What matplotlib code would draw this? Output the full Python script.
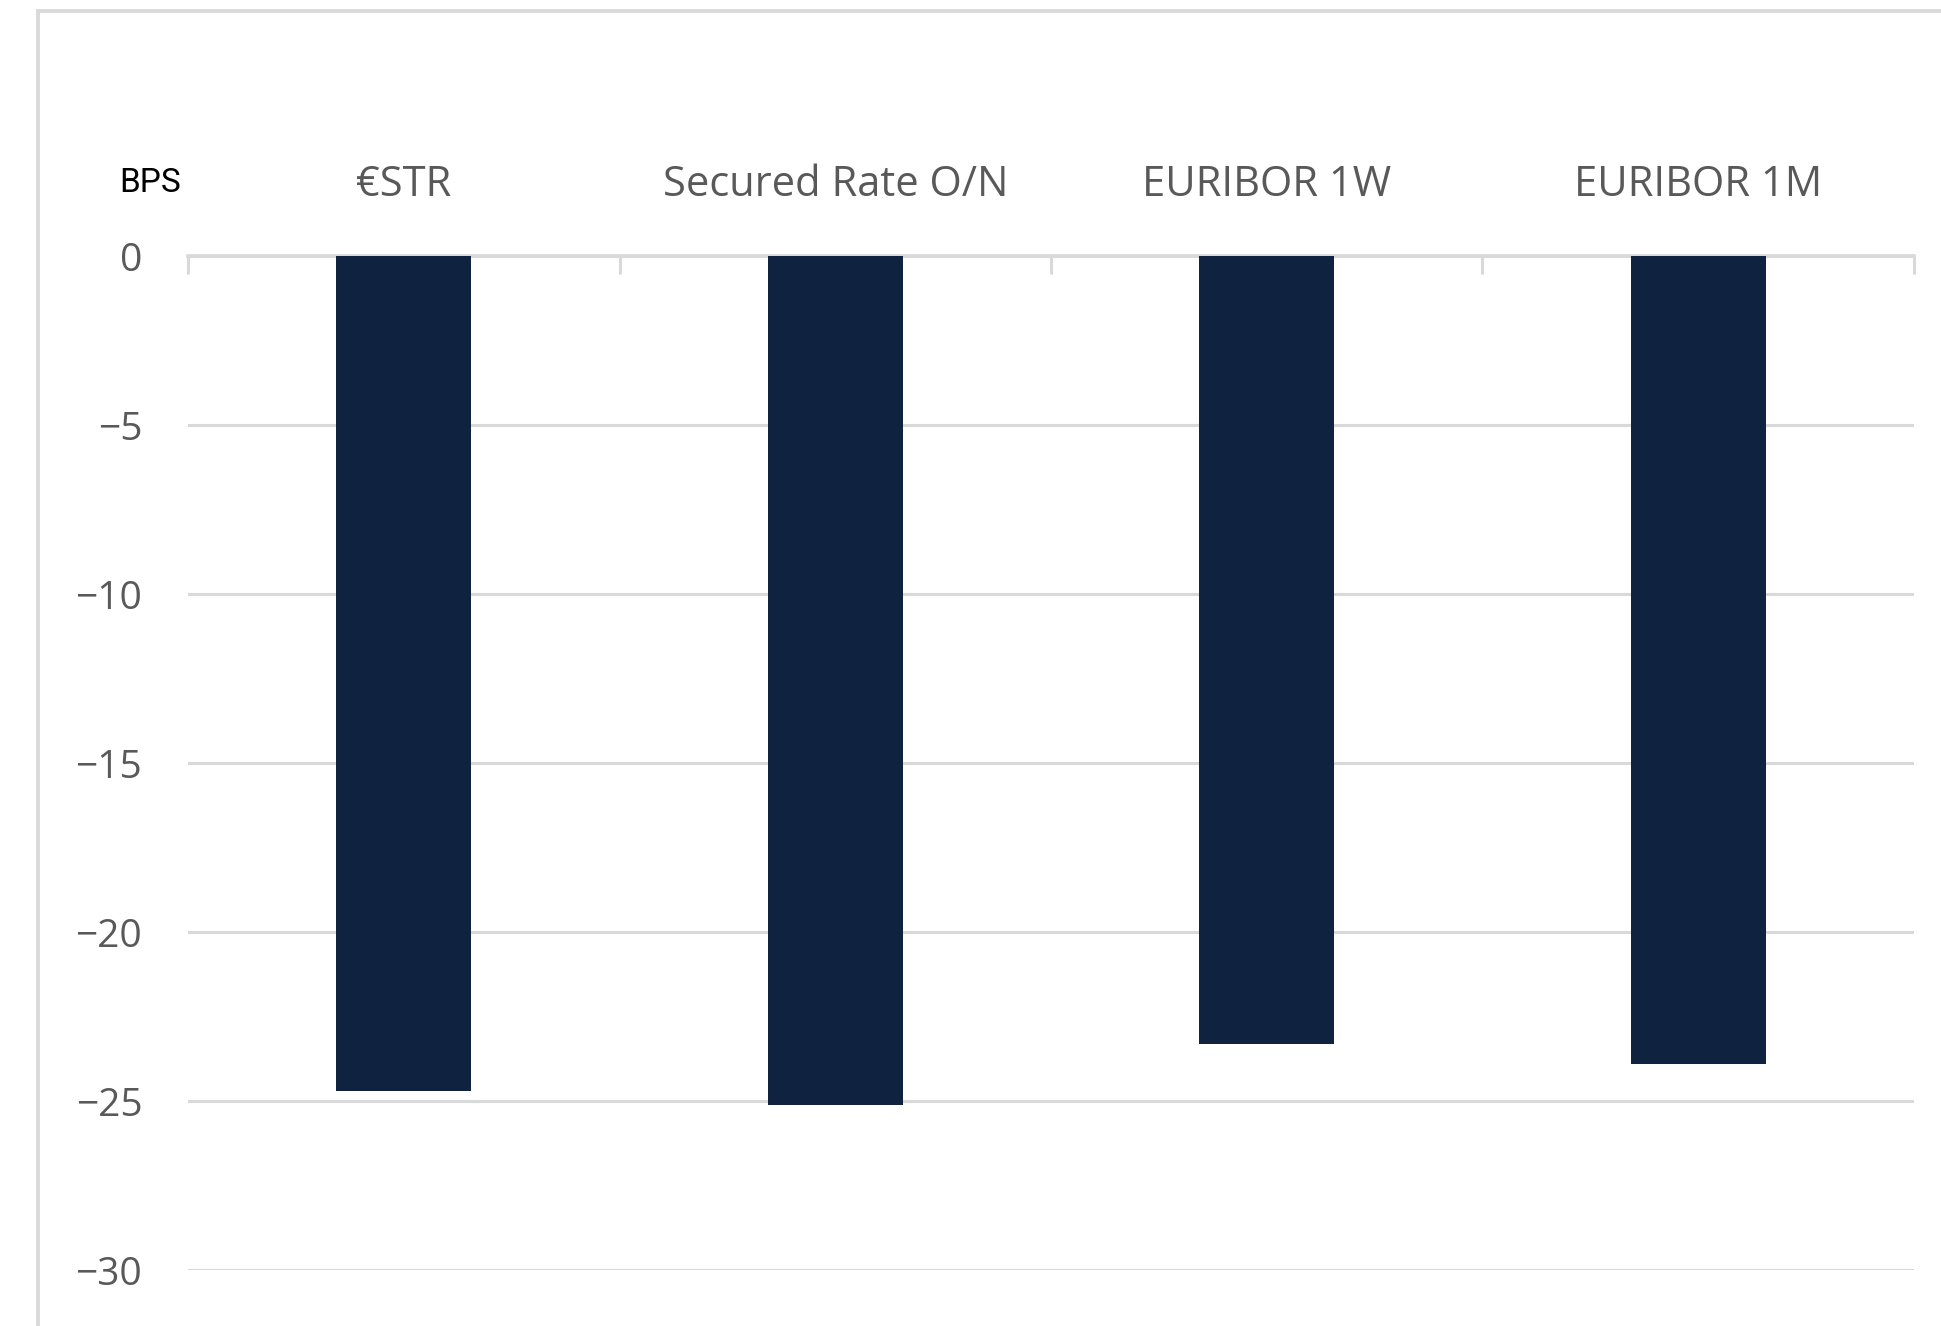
import matplotlib
matplotlib.use("Agg")
import matplotlib.pyplot as plt
from matplotlib.patches import Rectangle
import numpy as np

categories = ["€STR", "Secured Rate O/N", "EURIBOR 1W", "EURIBOR 1M"]
values = [-24.7, -25.1, -23.3, -23.9]
yticks = [0, -5, -10, -15, -20, -25, -30]
ytick_labels = ["0", "−5", "−10", "−15", "−20", "−25", "−30"]
unit_label = "BPS"

BAR = "#0f2340"
GRID = "#d9d9d9"
TXT = "#595959"
FONT = "Open Sans"

fig = plt.figure(figsize=(19.41, 13.26), dpi=100)
ax = fig.add_axes([0.0969, 0.042, 0.986 - 0.0969, 0.8067 - 0.042])

x = np.arange(len(categories))
ax.bar(x, values, width=0.313, color=BAR, zorder=3)

ax.set_xlim(-0.5, len(categories) - 0.5)
ax.set_ylim(-30, 0)

# y axis
ax.set_yticks(yticks)
ax.set_yticklabels(ytick_labels, fontsize=28, color=TXT, family=FONT)
ax.tick_params(axis="y", length=0, pad=33)
ax.yaxis.grid(True, color=GRID, linewidth=2.2, zorder=0)
ax.set_axisbelow(True)

# x axis at top
ax.xaxis.tick_top()
ax.set_xticks(x)
ax.set_xticklabels(categories, fontsize=30, color=TXT, family=FONT)
ax.tick_params(axis="x", which="major", length=0, pad=36)
ax.set_xticks(np.arange(-0.5, len(categories)), minor=True)
ax.tick_params(axis="x", which="minor", direction="in", length=13, width=2.2,
               color=GRID, top=True, bottom=False)

for s in ["left", "right", "bottom"]:
    ax.spines[s].set_visible(False)
ax.spines["top"].set_color(GRID)
ax.spines["top"].set_linewidth(2.6)

# unit label
fig.text(96 / 1568, 1 - 148 / 1071, unit_label, fontsize=24, color="black",
         family="Roboto", ha="left", va="center")

# outer frame
fig.patches.append(Rectangle((31 / 1568, -0.2), 1.2, 1.2 - 10 / 1071 + 0.001,
                             transform=fig.transFigure, fill=False,
                             edgecolor=GRID, linewidth=2.8, figure=fig))

fig.savefig("out.png", dpi=100)
